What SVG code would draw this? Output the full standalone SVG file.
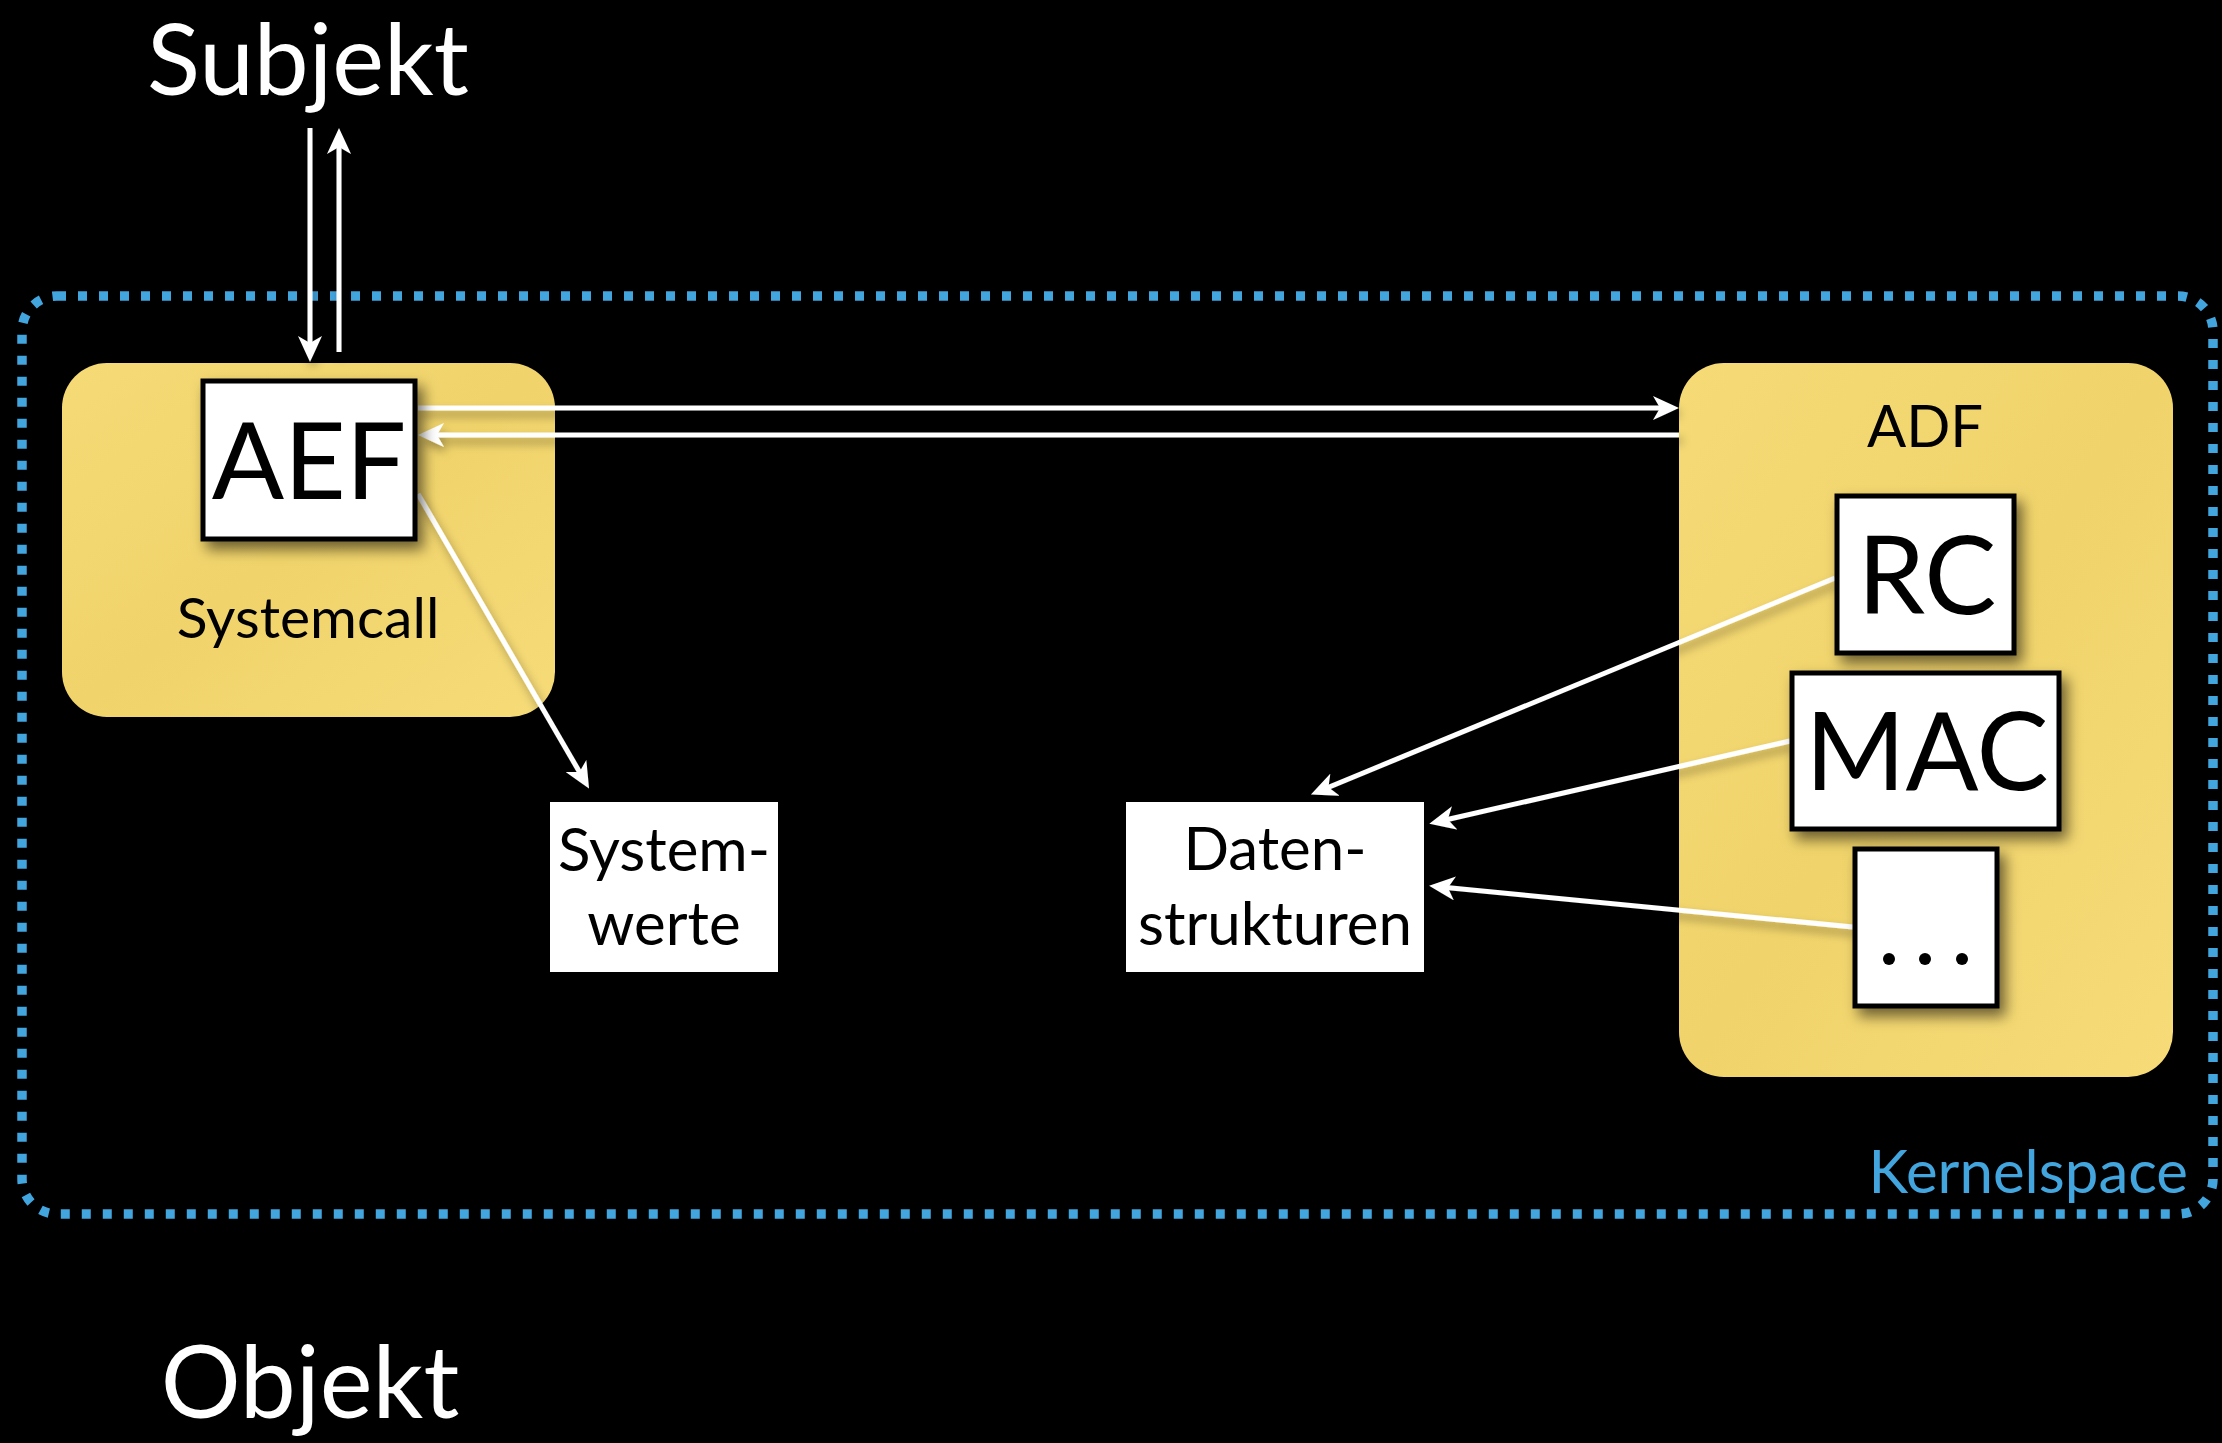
<svg xmlns="http://www.w3.org/2000/svg" width="2222" height="1443" viewBox="0 0 2222 1443">
<style>
.t{font-family:Lato,"Open Sans","Liberation Sans",sans-serif;}
.w{fill:#ffffff;}
.k{fill:#000000;}
.yel{fill:url(#yg);}
.box{fill:#ffffff;stroke:#000000;stroke-width:5;}
.plain{fill:#ffffff;}
.con{stroke:#ffffff;stroke-width:5;fill:none;marker-end:url(#ah);}
</style>
<defs>
<marker id="ah" markerUnits="userSpaceOnUse" viewBox="0 0 26 24" markerWidth="26" markerHeight="24" refX="14" refY="12" orient="auto">
<path d="M26,12 L0,0 L7,12 L0,24 Z" fill="#ffffff"/>
</marker>
<linearGradient id="yg" x1="0" y1="0" x2="1" y2="1">
<stop offset="0" stop-color="#f5da76"/>
<stop offset="0.5" stop-color="#f0d36a"/>
<stop offset="1" stop-color="#f6db78"/>
</linearGradient>
<filter id="sh" x="-20%" y="-20%" width="150%" height="150%">
<feDropShadow dx="6" dy="8" stdDeviation="7" flood-color="#000" flood-opacity="0.55"/>
</filter>
<filter id="lsh" x="-10%" y="-10%" width="120%" height="130%">
<feDropShadow dx="3" dy="6" stdDeviation="5" flood-color="#000" flood-opacity="0.35"/>
</filter>
</defs>
<rect width="2222" height="1443" fill="#000000"/>

<g id="kernelspace">
<rect x="22" y="296" width="2191" height="918" rx="35" fill="none" stroke="#42a5de" stroke-width="9.5" stroke-dasharray="9 12"/>
<text class="t" x="2188" y="1193" font-size="60" fill="#42a5de" text-anchor="end">Kernelspace</text>
</g>

<g id="subjekt"><text class="t w" x="308" y="95" font-size="98" text-anchor="middle">Subjekt</text></g>
<g id="objekt"><text class="t w" x="310" y="1418" font-size="100" text-anchor="middle">Objekt</text></g>

<g id="systemcall">
<rect class="yel" x="62" y="363" width="493" height="354" rx="45"/>
<text class="t k" x="308" y="638" font-size="57" text-anchor="middle">Systemcall</text>
</g>

<g id="adf">
<rect class="yel" x="1679" y="363" width="494" height="714" rx="45"/>
<text class="t k" x="1925" y="447" font-size="58" text-anchor="middle">ADF</text>
</g>

<g id="connectors" filter="url(#lsh)">
<line class="con" x1="310" y1="128" x2="310" y2="350"/>
<line class="con" x1="339" y1="352" x2="339" y2="140"/>
<line class="con" x1="418" y1="408" x2="1667" y2="408"/>
<line class="con" x1="1679" y1="435" x2="430" y2="435"/>
<line class="con" x1="418" y1="494" x2="583" y2="778"/>
<line class="con" x1="1835" y1="578" x2="1322" y2="790"/>
<line class="con" x1="1790" y1="741" x2="1441" y2="821"/>
<line class="con" x1="1853" y1="927" x2="1441" y2="887"/>
</g>

<g id="aef">
<rect class="box" x="203" y="381" width="212" height="158" filter="url(#sh)"/>
<text class="t k" x="309" y="499" font-size="107" text-anchor="middle">AEF</text>
</g>

<g id="rc">
<rect class="box" x="1837" y="496" width="177" height="157" filter="url(#sh)"/>
<text class="t k" x="1927" y="614" font-size="108" text-anchor="middle">RC</text>
</g>

<g id="mac">
<rect class="box" x="1792" y="673" width="267" height="156" filter="url(#sh)"/>
<text class="t k" x="1927" y="790" font-size="108" text-anchor="middle">MAC</text>
</g>

<g id="more">
<rect class="box" x="1855" y="849" width="142" height="157" filter="url(#sh)"/>
<circle cx="1889" cy="959" r="6" fill="#000"/>
<circle cx="1925" cy="959" r="6" fill="#000"/>
<circle cx="1962" cy="959" r="6" fill="#000"/>
</g>

<g id="systemwerte">
<rect class="plain" x="550" y="802" width="228" height="170"/>
<text class="t k" x="664" y="871" font-size="60" text-anchor="middle">System-</text>
<text class="t k" x="664" y="945" font-size="60" text-anchor="middle">werte</text>
</g>

<g id="datenstrukturen">
<rect class="plain" x="1126" y="802" width="298" height="170"/>
<text class="t k" x="1275" y="870" font-size="60" text-anchor="middle">Daten-</text>
<text class="t k" x="1275" y="945" font-size="60" text-anchor="middle">strukturen</text>
</g>
</svg>
